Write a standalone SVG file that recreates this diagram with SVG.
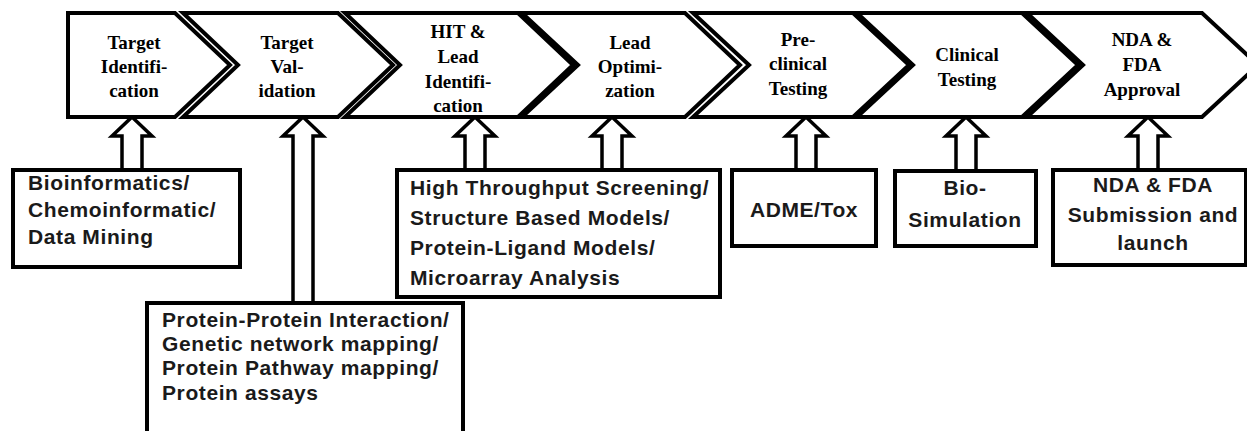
<svg xmlns="http://www.w3.org/2000/svg" width="1247" height="431" viewBox="0 0 1247 431">
<style>
.chev{fill:#fff;stroke:#000;stroke-width:4;stroke-linejoin:miter}
.box{fill:#fff;stroke:#000;stroke-width:4}
.arr{fill:#fff;stroke:#000;stroke-width:3.5;stroke-linejoin:miter}
.ct{font-family:"Liberation Serif",serif;font-weight:bold;font-size:19px;text-anchor:middle;fill:#000}
.bt{font-family:"Liberation Sans",Arial,sans-serif;font-weight:bold;font-size:21px;letter-spacing:0.6px;fill:#1a1a1a}
.bc{text-anchor:middle}
</style>
<rect width="1247" height="431" fill="#fff"/>
<g id="connectors">
<path class="arr" d="M132,117 L152,136 L142,136 L142,172 L122,172 L122,136 L112,136 Z"/>
<path class="arr" d="M303,117 L323,136 L313,136 L313,305 L293,305 L293,136 L283,136 Z"/>
<path class="arr" d="M475,117 L495,136 L485,136 L485,172 L465,172 L465,136 L455,136 Z"/>
<path class="arr" d="M612,117 L632,136 L622,136 L622,172 L602,172 L602,136 L592,136 Z"/>
<path class="arr" d="M806,117 L826,136 L816,136 L816,172 L796,172 L796,136 L786,136 Z"/>
<path class="arr" d="M966,117 L986,136 L976,136 L976,173 L956,173 L956,136 L946,136 Z"/>
<path class="arr" d="M1148,117 L1168,136 L1158,136 L1158,172 L1138,172 L1138,136 L1128,136 Z"/>
</g>
<g id="stage1">
<polygon class="chev" points="68,13 175,13 230,65 175,117 68,117"/>
<text class="ct" x="134" y="49">Target</text>
<text class="ct" x="134" y="73">Identifi-</text>
<text class="ct" x="134" y="97">cation</text>
</g>
<g id="stage2">
<polygon class="chev" points="183,13 338,13 393,65 338,117 183,117 238,65"/>
<text class="ct" x="287" y="49">Target</text>
<text class="ct" x="287" y="73">Val-</text>
<text class="ct" x="287" y="97">idation</text>
</g>
<g id="stage3">
<polygon class="chev" points="345,13 518,13 573,65 518,117 345,117 400,65"/>
<text class="ct" x="458" y="38">HIT &amp;</text>
<text class="ct" x="458" y="63">Lead</text>
<text class="ct" x="458" y="88">Identifi-</text>
<text class="ct" x="458" y="112">cation</text>
</g>
<g id="stage4">
<polygon class="chev" points="522,13 685,13 740,65 685,117 522,117 578,65"/>
<text class="ct" x="630" y="49">Lead</text>
<text class="ct" x="630" y="73">Optimi-</text>
<text class="ct" x="630" y="97">zation</text>
</g>
<g id="stage5">
<polygon class="chev" points="693,13 853,13 909,65 853,117 693,117 749,65"/>
<text class="ct" x="798" y="46">Pre-</text>
<text class="ct" x="798" y="70">clinical</text>
<text class="ct" x="798" y="95">Testing</text>
</g>
<g id="stage6">
<polygon class="chev" points="857,13 1022,13 1078,65 1022,117 857,117 913,65"/>
<text class="ct" x="967" y="61">Clinical</text>
<text class="ct" x="967" y="86">Testing</text>
</g>
<g id="stage7">
<polygon class="chev" points="1027,13 1202,13 1258,65 1202,117 1027,117 1083,65"/>
<text class="ct" x="1142" y="46">NDA &amp;</text>
<text class="ct" x="1142" y="71">FDA</text>
<text class="ct" x="1142" y="96">Approval</text>
</g>
<g id="box-bioinformatics">
<rect class="box" x="13" y="170" width="227" height="97"/>
<text class="bt" x="28" y="190">Bioinformatics/</text>
<text class="bt" x="28" y="217">Chemoinformatic/</text>
<text class="bt" x="28" y="244">Data Mining</text>
</g>
<g id="box-protein">
<rect class="box" x="147" y="303" width="316" height="140"/>
<text class="bt" x="162" y="327">Protein-Protein Interaction/</text>
<text class="bt" x="162" y="351">Genetic network mapping/</text>
<text class="bt" x="162" y="375">Protein Pathway mapping/</text>
<text class="bt" x="162" y="400">Protein assays</text>
</g>
<g id="box-hts">
<rect class="box" x="397" y="170" width="323" height="127"/>
<text class="bt" x="410" y="195">High Throughput Screening/</text>
<text class="bt" x="410" y="225">Structure Based  Models/</text>
<text class="bt" x="410" y="255">Protein-Ligand Models/</text>
<text class="bt" x="410" y="285">Microarray Analysis</text>
</g>
<g id="box-adme">
<rect class="box" x="732" y="170" width="144" height="76"/>
<text class="bt bc" x="804" y="217">ADME/Tox</text>
</g>
<g id="box-biosim">
<rect class="box" x="895" y="171" width="141" height="75"/>
<text class="bt bc" x="965" y="195">Bio-</text>
<text class="bt bc" x="965" y="227">Simulation</text>
</g>
<g id="box-nda">
<rect class="box" x="1053" y="170" width="193" height="95"/>
<text class="bt bc" x="1153" y="192">NDA &amp; FDA</text>
<text class="bt bc" x="1153" y="222">Submission and</text>
<text class="bt bc" x="1153" y="250">launch</text>
</g>
</svg>
